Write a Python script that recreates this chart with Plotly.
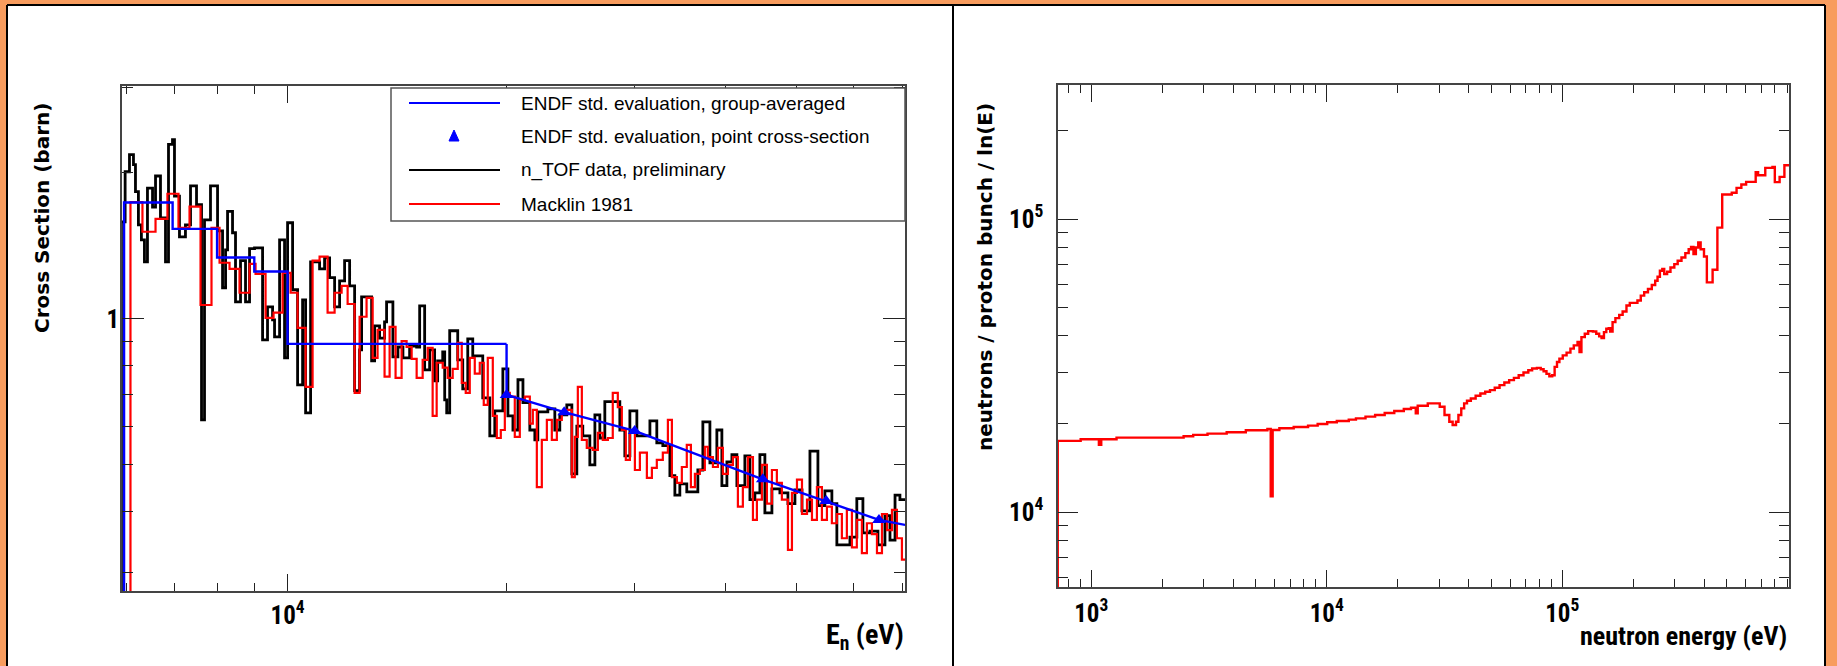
import plotly.graph_objects as go

# ---------------- Left panel data (cross section, barn) ----------------
ntof_E = [5910, 5980, 6063, 6140, 6179, 6237, 6296, 6357, 6418, 6522,
          6584, 6688, 6795, 6860, 6947, 6991, 7102, 7238, 7355, 7496,
          7616, 7688, 7835, 8012, 8140, 8218, 8270, 8401, 8481, 8616,
          8754, 8866, 9007, 9239, 9385, 9536, 9596, 9750, 9905, 10000,
          10160, 10322, 10487, 10587, 10756, 11066, 11242, 11423, 11605, 11790,
          11978, 12170, 12364, 12560, 12640, 13048, 13172, 13380, 13593, 13680,
          13956, 14180, 14407, 14715, 15046, 15190, 15432, 15677, 15927, 16080,
          16340, 16443, 16548, 16705, 17135, 17409, 17688, 17970, 18548, 18965,
          19268, 19766, 20086, 20407, 20733, 21064, 21528, 21871, 22080, 22790,
          23300, 23670, 24200, 24590, 24980, 25456, 26030, 26450, 26867, 27295,
          28180, 28623, 29080, 29548, 30207, 31482, 32177, 32795, 33537, 34070,
          34610, 35380, 36640, 37225, 38065, 38912, 39535, 40170, 40810, 41460,
          42520, 43205, 43890, 44590, 45300, 46320, 47503, 48730, 49820, 50945,
          52245, 53580, 54775, 56000, 56890, 59295, 60600, 61780, 63175, 64790,
          66240, 67305, 68390, 69460]
ntof_xs = [1.585, 2.01, 2.18, 2.08, 1.83, 1.562, 1.455, 1.311, 1.86, 1.70,
           1.97, 1.615, 1.311, 2.29, 2.34, 1.79, 1.476, 1.562, 1.88, 1.72,
           0.619, 1.60, 1.88, 1.519, 1.159, 1.388, 1.665, 1.505, 1.084, 1.318,
           1.084, 1.395, 1.40, 0.905, 1.059, 0.995, 0.918, 1.455, 0.831, 1.578,
           1.148, 0.731, 1.094, 0.640, 1.311, 1.268, 1.336, 1.216, 1.059, 1.198,
           1.318, 1.17, 0.711, 0.863, 1.11, 0.819, 0.967, 0.913, 0.986, 1.084,
           0.835, 0.875, 0.831, 0.879, 0.875, 1.064, 0.785, 0.863, 0.745, 0.819,
           0.855, 0.681, 0.640, 0.945, 0.823, 0.717, 0.909, 0.839, 0.687, 0.574,
           0.646, 0.789, 0.631, 0.590, 0.749, 0.672, 0.590, 0.563, 0.643, 0.652,
           0.590, 0.634, 0.665, 0.479, 0.601, 0.574, 0.500, 0.634, 0.568, 0.675,
           0.675, 0.590, 0.522, 0.646, 0.574, 0.616, 0.555, 0.548, 0.475, 0.433,
           0.457, 0.440, 0.488, 0.613, 0.505, 0.590, 0.453, 0.507, 0.525, 0.453,
           0.522, 0.424, 0.438, 0.525, 0.398, 0.446, 0.438, 0.416, 0.444, 0.402,
           0.534, 0.412, 0.442, 0.416, 0.342, 0.355, 0.426, 0.362, 0.365, 0.342,
           0.393, 0.350, 0.433, 0.424]
ntof_E_end = 70600

macklin_E = [6082, 6317, 6584, 6837, 7080, 7332, 7592, 7860, 8063, 8322,
             8589, 8866, 9036, 9327, 9566, 9843, 10096, 10322, 10587, 10824,
             11066, 11350, 11605, 11865, 12093, 12364, 12560, 12840, 13090, 13295,
             13593, 13812, 14075, 14347, 14575, 14810, 15046, 15335, 15580, 15827,
             16030, 16340, 16600, 16865, 17135, 17355, 17575, 17800, 18085, 18373,
             18607, 18845, 19147, 19392, 19637, 19890, 20206, 20527, 20855, 21188,
             21528, 21733, 22010, 22360, 22720, 23080, 23450, 23820, 24200, 24590,
             24820, 25060, 25380, 25780, 26275, 26700, 27120, 27560, 27990, 28440,
             28805, 29170, 29548, 30020, 30497, 31180, 31680, 32177, 32795, 33325,
             33750, 34290, 34830, 35380, 35840, 36300, 36873, 37460, 37815, 38430,
             39040, 39660, 40300, 40940, 41590, 42250, 42920, 43620, 44170, 44870,
             45590, 46320, 47050, 47800, 48730, 49350, 50140, 50945, 51760, 52580,
             53410, 54260, 55130, 56000, 56890, 57800, 58720, 59670, 60600, 61580,
             62560, 63570, 64590, 65620, 66670, 67730, 68800, 69900]
macklin_xs = [1.74, 1.512, 1.608, 1.811, 1.541, 1.704, 1.068, 1.541, 1.305, 1.268,
              1.132, 1.298, 1.238, 1.005, 1.03, 1.244, 1.132, 0.958, 0.724, 1.318,
              1.343, 1.03, 1.132, 1.17, 1.073, 0.704, 1.01, 1.105, 0.831, 0.949,
              0.76, 0.963, 0.756, 0.90, 0.875, 0.827, 0.756, 0.823, 0.871, 0.631,
              0.812, 0.793, 0.756, 0.789, 0.892, 0.738, 0.704, 0.831, 0.771, 0.812,
              0.665, 0.831, 0.631, 0.568, 0.590, 0.704, 0.691, 0.571, 0.681, 0.691,
              0.608, 0.649, 0.450, 0.563, 0.619, 0.563, 0.619, 0.640, 0.649, 0.472,
              0.571, 0.724, 0.563, 0.542, 0.537, 0.582, 0.563, 0.568, 0.704, 0.658,
              0.590, 0.512, 0.582, 0.488, 0.530, 0.470, 0.493, 0.512, 0.530, 0.619,
              0.472, 0.459, 0.495, 0.550, 0.450, 0.479, 0.488, 0.545, 0.519, 0.495,
              0.542, 0.479, 0.500, 0.519, 0.410, 0.450, 0.519, 0.385, 0.424, 0.500,
              0.416, 0.488, 0.459, 0.424, 0.334, 0.438, 0.466, 0.396, 0.424, 0.385,
              0.450, 0.385, 0.410, 0.379, 0.396, 0.353, 0.404, 0.338, 0.385, 0.329,
              0.379, 0.360, 0.329, 0.396, 0.367, 0.404, 0.353, 0.319]
macklin_E_end = 70600

endf_group_E = [5960, 6950, 8000, 9000, 10000, 20000]
endf_group_xs = [1.737, 1.533, 1.338, 1.252, 0.888]

endf_point_E = [20000, 24000, 30000, 45000, 55000, 65000, 70600]
endf_point_xs = [0.697, 0.642, 0.5875, 0.467, 0.421, 0.385, 0.376]
endf_marker_E = [20000, 24000, 30000, 45000, 55000, 65000]
endf_marker_xs = [0.697, 0.642, 0.5875, 0.467, 0.421, 0.385]

empty_bin = 1e-3  # bins with no content (below the axis range)

# ---------------- Right panel data (flux) ----------------
flux_E = [721, 902, 1078, 1103, 1281, 2468, 2710, 3118, 3760, 4534,
          5598, 5783, 5893, 6293, 7240, 8331, 9151, 10047, 11033, 12403,
          13305, 14608, 16045, 17620, 19350, 21245, 22790, 23880, 24337, 26850,
          30180, 31623, 33140, 34240, 35390, 36230, 37250, 38310, 39400, 40910,
          42870, 44910, 47080, 49330, 51680, 54170, 56770, 59490, 62330, 65310,
          68450, 71740, 74470, 78040, 81010, 83310, 85690, 88130, 90640, 92800,
          94970, 97230, 100460, 104300, 108300, 111900, 116100, 118370, 120600, 124600,
          128800, 134900, 139400, 143400, 146800, 150300, 153800, 157500, 159700, 163500,
          168100, 174500, 180400, 187300, 193500, 208500, 215400, 222700, 231100, 239900,
          248000, 253800, 259700, 265900, 270900, 278700, 288000, 299000, 309000, 320700,
          333000, 344100, 352200, 360600, 369200, 377800, 386800, 399700, 411000, 434800,
          455600, 477500, 524300, 549500, 575800, 603300, 662500, 678200, 727500, 780400,
          798700, 837000, 877100]
flux_val = [17510, 17740, 16970, 17740, 17970, 18160, 18350, 18540, 18730, 19030,
            19230, 11330, 19080, 19330, 19530, 19740, 20000, 20260, 20470, 20690,
            20900, 21180, 21450, 21790, 22130, 22480, 22710, 21740, 23070, 23500,
            22890, 21450, 20360, 19840, 20360, 21450, 22600, 23500, 23990, 24430,
            24950, 25410, 25750, 26080, 26570, 27130, 27700, 28210, 28730, 29330,
            29950, 30500, 30900, 31060, 30740, 30260, 29640, 29100, 29330, 31300,
            32540, 33410, 34280, 35010, 36130, 37080, 38050, 35190, 39560, 40610,
            41470, 41350, 40610, 39770, 39260, 41150, 42230, 42450, 41350, 44490,
            45900, 47110, 48360, 50680, 51750, 52710, 54800, 56230, 57720, 59560,
            61600, 63560, 66610, 67490, 64910, 66100, 68360, 70190, 72070, 73930,
            76470, 78900, 80350, 75900, 79930, 83120, 78900, 74500, 60810, 67140,
            93460, 121260, 122850, 127730, 131110, 133890, 144360, 141010, 149390, 150570,
            133540, 139210, 152510]
flux_E_end = 919100

W, H = 1837, 666
ORANGE = "#f89c5e"
FONT = "Liberation Sans, Arial, Helvetica, sans-serif"
NARROW = "Liberation Sans Narrow, Arial Narrow, Roboto Condensed, Liberation Sans, sans-serif"
WIDE = "DejaVu Sans, Verdana, sans-serif"


def px_x(p):
    return p / W


def px_y(p):
    return 1 - p / H


fig = go.Figure()

# n_TOF data (black histogram)
fig.add_trace(go.Scatter(
    x=[ntof_E[0]] + ntof_E + [ntof_E_end], y=[empty_bin] + ntof_xs + [ntof_xs[-1]],
    mode="lines", line=dict(color="black", width=2.8, shape="hv"),
    name="n_TOF data, preliminary", xaxis="x", yaxis="y", showlegend=False))
# Macklin 1981 (red histogram)
fig.add_trace(go.Scatter(
    x=[macklin_E[0]] + macklin_E + [macklin_E_end], y=[empty_bin] + macklin_xs + [macklin_xs[-1]],
    mode="lines", line=dict(color="#ff0000", width=2.2, shape="hv"),
    name="Macklin 1981", xaxis="x", yaxis="y", showlegend=False))
# ENDF group-averaged (blue steps)
fig.add_trace(go.Scatter(
    x=[endf_group_E[0]] + endf_group_E, y=[empty_bin] + endf_group_xs + [endf_group_xs[-1]],
    mode="lines", line=dict(color="#0000ff", width=2.4, shape="hv"),
    name="ENDF std. evaluation, group-averaged", xaxis="x", yaxis="y", showlegend=False))
# ENDF point cross-section line + triangles
fig.add_trace(go.Scatter(
    x=[endf_group_E[-1]] + endf_point_E, y=[endf_group_xs[-1]] + endf_point_xs,
    mode="lines", line=dict(color="#0000ff", width=2.4),
    xaxis="x", yaxis="y", showlegend=False, hoverinfo="skip"))
fig.add_trace(go.Scatter(
    x=endf_marker_E, y=endf_marker_xs, mode="markers",
    marker=dict(symbol="triangle-up", size=12, color="#0000ff"),
    name="ENDF std. evaluation, point cross-section", xaxis="x", yaxis="y", showlegend=False))

# Right panel flux
fig.add_trace(go.Scatter(
    x=[flux_E[0]] + flux_E + [flux_E_end], y=[empty_bin] + flux_val + [flux_val[-1]],
    mode="lines", line=dict(color="#ff0000", width=2.4, shape="hv"),
    name="flux", xaxis="x2", yaxis="y2", showlegend=False))

tickfont = dict(family=NARROW, size=25, color="black", weight="bold")
common = dict(type="log", showgrid=False, zeroline=False, showline=True,
              linecolor="#444", linewidth=1.5, mirror="ticks", ticks="inside",
              tickcolor="#222", tickwidth=1.4, tickfont=tickfont, tickmode="array")

fig.update_layout(
    width=W, height=H, margin=dict(l=0, r=0, t=0, b=0), autosize=False,
    paper_bgcolor=ORANGE, plot_bgcolor="white",
    xaxis=dict(common, domain=[px_x(122), px_x(905)], range=[3.7724, 4.8487], anchor="y",
               tickvals=[1e4], ticktext=["10<sup>4</sup>"], ticklen=17, ticklabelstandoff=1,
               minor=dict(tickmode="array", tickvals=[6000, 7000, 8000, 9000, 20000, 30000, 40000, 50000, 60000, 70000],
                          ticks="inside", ticklen=8, tickwidth=1.4, tickcolor="#222")),
    yaxis=dict(common, domain=[px_y(591), px_y(86)], range=[-0.561, 0.480], anchor="x",
               tickvals=[1], ticktext=["1"], ticklen=22, ticklabelstandoff=-4,
               minor=dict(tickmode="array", tickvals=[0.3, 0.4, 0.5, 0.6, 0.7, 0.8, 0.9, 2, 3],
                          ticks="inside", ticklen=11, tickwidth=1.4, tickcolor="#222")),
    xaxis2=dict(common, domain=[px_x(1058), px_x(1789)], range=[2.859, 5.9626], anchor="y2",
                tickvals=[1e3, 1e4, 1e5], ticktext=["10<sup>3</sup>", "10<sup>4</sup>", "10<sup>5</sup>"],
                ticklen=17, ticklabelstandoff=3,
                minor=dict(tickmode="array",
                           tickvals=[800, 900, 2000, 3000, 4000, 5000, 6000, 7000, 8000, 9000,
                                     20000, 30000, 40000, 50000, 60000, 70000, 80000, 90000,
                                     200000, 300000, 400000, 500000, 600000, 700000, 800000, 900000],
                           ticks="inside", ticklen=8, tickwidth=1.4, tickcolor="#222")),
    yaxis2=dict(common, domain=[px_y(587), px_y(85)], range=[3.745, 5.457], anchor="x2",
                tickvals=[1e4, 1e5], ticktext=["10<sup>4</sup>", "10<sup>5</sup>"],
                ticklen=20, ticklabelstandoff=8,
                minor=dict(tickmode="array",
                           tickvals=[6000, 7000, 8000, 9000, 20000, 30000, 40000, 50000,
                                     60000, 70000, 80000, 90000, 200000],
                           ticks="inside", ticklen=10, tickwidth=1.4, tickcolor="#222")),
    showlegend=False,
)

shapes = []
# white page inside the orange border
shapes.append(dict(type="rect", xref="paper", yref="paper", x0=px_x(7), x1=px_x(1825), y0=0, y1=px_y(5),
                   fillcolor="white", line=dict(width=0), layer="below"))
# frame lines of the page
for (x0, y0, x1, y1) in [(7, 5, 7, 666), (7, 5, 1825, 5), (1825, 5, 1825, 666), (953, 5, 953, 666)]:
    shapes.append(dict(type="line", xref="paper", yref="paper", x0=px_x(x0), x1=px_x(x1),
                       y0=px_y(y0), y1=px_y(y1), line=dict(color="black", width=2)))
# legend box
shapes.append(dict(type="rect", xref="paper", yref="paper", x0=px_x(391), x1=px_x(905),
                   y0=px_y(221), y1=px_y(88), fillcolor="white", line=dict(color="#555", width=1.5)))
legend_rows = [
    ("ENDF std. evaluation, group-averaged", "#0000ff", 103, "line"),
    ("ENDF std. evaluation, point cross-section", "#0000ff", 136, "marker"),
    ("n_TOF data, preliminary", "black", 170, "line"),
    ("Macklin 1981", "#ff0000", 204, "line"),
]
annotations = []
for text, col, yy, kind in legend_rows:
    if kind == "line":
        shapes.append(dict(type="line", xref="paper", yref="paper", x0=px_x(409), x1=px_x(500),
                           y0=px_y(yy), y1=px_y(yy), line=dict(color=col, width=2.2)))
    else:
        shapes.append(dict(type="path", xref="paper", yref="paper",
                           path=f"M {px_x(449)},{px_y(yy + 5)} L {px_x(459)},{px_y(yy + 5)} L {px_x(454)},{px_y(yy - 6)} Z",
                           fillcolor=col, line=dict(color=col, width=1)))
    annotations.append(dict(text=text, xref="paper", yref="paper", x=px_x(519), y=px_y(yy),
                            xanchor="left", yanchor="middle", showarrow=False,
                            font=dict(family=FONT, size=19, color="black")))

# axis titles (ROOT style)
ytitle_font = dict(family=WIDE, size=20, color="black", weight="bold")
annotations += [
    dict(text="Cross Section (barn)", xref="paper", yref="paper", x=px_x(42), y=px_y(218),
         xanchor="center", yanchor="middle", textangle=-90, showarrow=False, font=ytitle_font),
    dict(text="E<sub>n</sub> (eV)", xref="paper", yref="paper", x=px_x(906), y=px_y(636),
         xanchor="right", yanchor="middle", showarrow=False,
         font=dict(family=NARROW, size=28, color="black", weight="bold")),
    dict(text="neutrons / proton bunch / ln(E)", xref="paper", yref="paper", x=px_x(985), y=px_y(277),
         xanchor="center", yanchor="middle", textangle=-90, showarrow=False, font=ytitle_font),
    dict(text="neutron energy (eV)", xref="paper", yref="paper", x=px_x(1789), y=px_y(636),
         xanchor="right", yanchor="middle", showarrow=False,
         font=dict(family=NARROW, size=26, color="black", weight="bold")),
]
fig.update_layout(shapes=shapes, annotations=annotations)

fig.write_html("out.html", config={"displayModeBar": False},
               post_script="document.body.style.margin='0';document.body.style.overflow='hidden';")
